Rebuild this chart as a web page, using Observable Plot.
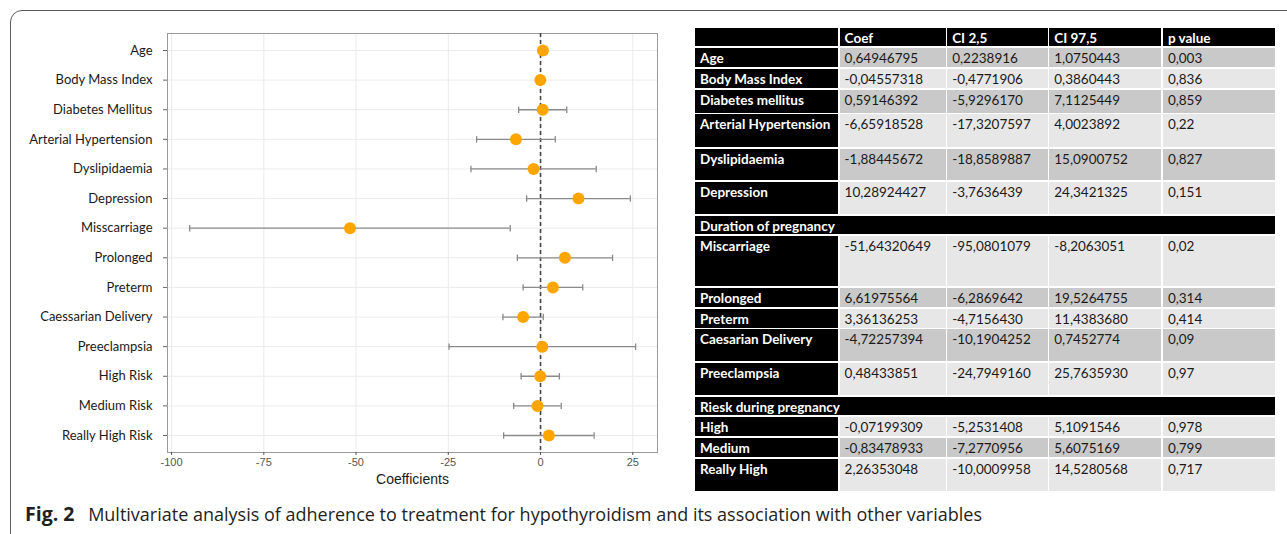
<!DOCTYPE html>
<html>
<head>
<meta charset="utf-8">
<script src="https://cdn.jsdelivr.net/npm/d3@7"></script>
<script src="https://cdn.jsdelivr.net/npm/@observablehq/plot@0.6"></script>
<style>
  html, body { margin: 0; padding: 0; background: #fff; }
  body { width: 1287px; height: 534px; overflow: hidden; position: relative; }
  #frame { position: absolute; left: 10px; top: 10px; width: 1320px; height: 540px;
           border: 1.5px solid #5a5a5a; border-radius: 12px; box-sizing: border-box; }
  #plot { position: absolute; left: 0; top: 20px; }
  #tbl { position: absolute; left: 695px; top: 28.3px; display: grid; column-gap: 1.6px; row-gap: 1.7px;
         font-family: Lato, "Open Sans", sans-serif; font-size: 13.5px; color: #1a1a1a; }
  #tbl div { padding: 1px 0 0 5px; line-height: 18px; white-space: nowrap; overflow: hidden; box-sizing: border-box; }
  #tbl div.lab, #tbl div.hd, #tbl div.sec { background: #000; color: #fff; font-weight: bold; }
  #tbl div.sec { grid-column: 1 / -1; }
  #tbl div.dark { background: #c9c9c9; }
  #tbl div.light { background: #e7e7e7; }
  #caption { position: absolute; left: 25px; top: 500px; font-family: "Open Sans", "Noto Sans", sans-serif;
             font-size: 18px; color: #231f20; white-space: nowrap; }
  #caption b { font-weight: 700; font-size: 19.5px; margin-right: 9px; }
</style>
</head>
<body>
<div id="frame"></div>
<div id="plot"></div>
<div id="tbl"></div>
<div id="caption"><b>Fig. 2</b> Multivariate analysis of adherence to treatment for hypothyroidism and its association with other variables</div>
<script>
// ---------------- DATA ----------------
const plotLabels = ["Age", "Body Mass Index", "Diabetes Mellitus", "Arterial Hypertension", "Dyslipidaemia",
  "Depression", "Misscarriage", "Prolonged", "Preterm", "Caessarian Delivery", "Preeclampsia",
  "High Risk", "Medium Risk", "Really High Risk"];
const tableLabels = ["Age", "Body Mass Index", "Diabetes mellitus", "Arterial Hypertension", "Dyslipidaemia",
  "Depression", "Miscarriage", "Prolonged", "Preterm", "Caesarian Delivery", "Preeclampsia",
  "High", "Medium", "Really High"];
const coef = [0.64946795, -0.04557318, 0.59146392, -6.65918528, -1.88445672, 10.28924427, -51.64320649,
  6.61975564, 3.36136253, -4.72257394, 0.48433851, -0.07199309, -0.83478933, 2.26353048];
const ciLow = [0.2238916, -0.4771906, -5.9296170, -17.3207597, -18.8589887, -3.7636439, -95.0801079,
  -6.2869642, -4.7156430, -10.1904252, -24.7949160, -5.2531408, -7.2770956, -10.0009958];
const ciHigh = [1.0750443, 0.3860443, 7.1125449, 4.0023892, 15.0900752, 24.3421325, -8.2063051,
  19.5264755, 11.4383680, 0.7452774, 25.7635930, 5.1091546, 5.6075169, 14.5280568];
const pValues = [0.003, 0.836, 0.859, 0.22, 0.827, 0.151, 0.02, 0.314, 0.414, 0.09, 0.97, 0.978, 0.799, 0.717];
const tableHeaders = ["Coef", "CI 2,5", "CI 97,5", "p value"];
const sectionTitles = ["Duration of pregnancy", "Riesk during pregnancy"];
const sectionStarts = [6, 11];   // index of first variable in each section
const xTicks = [-100, -75, -50, -25, 0, 25];
const xLabel = "Coefficients";

// ---------------- LAYOUT ----------------
const bodyRowHeights = [19.6, 19, 22.9, 32.7, 31.9, 32.3, 17.7, 50.9, 19, 19, 31.9, 32.3, 18.3, 19.3, 19, 32];
const headerRowHeight = 17.7;
const colWidths = [143, 106, 100.5, 112, 112.5];

// ---------------- PLOT ----------------
const rows = plotLabels.map((label, i) => ({label, coef: coef[i], lo: ciLow[i], hi: ciHigh[i]}));
const capSymbol = { draw(ctx, size) { const h = 3.2; ctx.moveTo(0, -h); ctx.lineTo(0, h); } };

const chart = Plot.plot({
  width: 660, height: 480,
  marginLeft: 167, marginRight: 3, marginTop: 13, marginBottom: 48,
  style: { fontFamily: "'Liberation Sans', Arial, sans-serif", fontSize: "11px", background: "transparent" },
  x: { domain: [-101.1, 31.7], label: null },
  y: { type: "band", domain: plotLabels, paddingInner: 0, paddingOuter: 0.074, round: false, label: null },
  marks: [
    Plot.gridX(xTicks, { stroke: "#ebebeb", strokeOpacity: 1 }),
    Plot.gridY({ stroke: "#ebebeb", strokeOpacity: 1 }),
    Plot.frame({ stroke: "#9a9a9a" }),
    Plot.ruleX([0], { stroke: "#444", strokeWidth: 1.6, strokeDasharray: "4,3" }),
    Plot.ruleY(rows, { y: "label", x1: "lo", x2: "hi", stroke: "#8a8a8a", strokeWidth: 1.3 }),
    Plot.dot(rows, { x: "lo", y: "label", symbol: capSymbol, stroke: "#8a8a8a", strokeWidth: 1.3, fill: "none" }),
    Plot.dot(rows, { x: "hi", y: "label", symbol: capSymbol, stroke: "#8a8a8a", strokeWidth: 1.3, fill: "none" }),
    Plot.dot(rows, { x: "coef", y: "label", r: 6, fill: "#ffa500", stroke: "none" }),
    Plot.axisX(xTicks, { tickSize: 3, tickPadding: 3, fill: "#555", stroke: "#555", fontSize: 11,
      tickFormat: d => String(d),
      label: xLabel, labelAnchor: "center", labelArrow: "none", labelOffset: 31 }),
    Plot.axisY({ tickSize: 4, tickPadding: 11, stroke: "#666", fill: "#1a1a1a", fontSize: 13,
      fontFamily: "Lato, 'Open Sans', sans-serif" })
  ]
});
document.getElementById("plot").appendChild(chart);
// style the axis label
chart.querySelectorAll("text").forEach(t => {
  if (t.textContent === xLabel) { t.setAttribute("font-size", "14"); t.setAttribute("fill", "#1a1a1a"); }
});

// ---------------- TABLE ----------------
const fmt = (v, d) => v.toFixed(d).replace(".", ",");
const tbl = document.getElementById("tbl");
tbl.style.gridTemplateColumns = colWidths.map(w => w + "px").join(" ");
tbl.style.gridTemplateRows = [headerRowHeight, ...bodyRowHeights].map(h => h + "px").join(" ");
const cell = (cls, text) => { const d = document.createElement("div"); d.className = cls; d.textContent = text || ""; tbl.appendChild(d); };
cell("hd", "");
tableHeaders.forEach(h => cell("hd", h));
let band = 0;
tableLabels.forEach((label, i) => {
  const s = sectionStarts.indexOf(i);
  if (s >= 0) { cell("sec", sectionTitles[s]); band++; }
  const shade = band % 2 === 0 ? "dark" : "light";
  cell("lab", label);
  [fmt(coef[i], 8), fmt(ciLow[i], 7), fmt(ciHigh[i], 7), String(pValues[i]).replace(".", ",")]
    .forEach(v => cell(shade, v));
  band++;
});
</script>
</body>
</html>
